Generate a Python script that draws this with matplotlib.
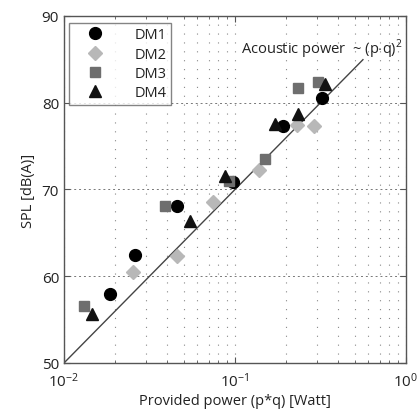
import numpy as np
import matplotlib.pyplot as plt
from matplotlib.ticker import LogLocator, NullFormatter

plt.rcParams['font.family'] = ['Open Sans', 'DejaVu Sans']
plt.rcParams['mathtext.fontset'] = 'custom'
plt.rcParams['mathtext.rm'] = 'Open Sans'

# power (p*q) in Watt, SPL in dB(A)
dm1_x = [0.0186, 0.0259, 0.0456, 0.0977, 0.191, 0.321]
dm1_y = [57.9, 62.4, 68.1, 70.9, 77.3, 80.6]
dm2_x = [0.0254, 0.0461, 0.0746, 0.139, 0.231, 0.290]
dm2_y = [60.5, 62.3, 68.5, 72.2, 77.4, 77.3]
dm3_x = [0.01315, 0.039, 0.092, 0.150, 0.234, 0.307]
dm3_y = [56.6, 68.1, 71.0, 73.5, 81.7, 82.4]
dm4_x = [0.01466, 0.0546, 0.0875, 0.171, 0.234, 0.336]
dm4_y = [55.6, 66.4, 71.5, 77.55, 78.7, 82.2]

# reference line: 20 dB per decade
ref_x = np.array([0.01, 0.56])
ref_y = 50 + 20 * np.log10(ref_x / 0.01)

fig = plt.figure(figsize=(4.19, 4.14), dpi=100)
ax = fig.add_axes([0.1527, 0.1208, 0.8163, 0.8382])

ax.plot(ref_x, ref_y, color='#444444', lw=1.0, zorder=2)
ax.plot(dm1_x, dm1_y, 'o', color='black', ms=8.5, label='DM1', zorder=3)
ax.plot(dm2_x, dm2_y, 'D', color='#b8b8b8', ms=7, label='DM2', zorder=3)
ax.plot(dm3_x, dm3_y, 's', color='#6e6e6e', ms=7.5, label='DM3', zorder=3)
ax.plot(dm4_x, dm4_y, '^', color='#111111', ms=9, label='DM4', zorder=3)

ax.set_xscale('log')
ax.set_xlim(0.01, 1)
ax.set_ylim(50, 90)
ax.set_yticks([50, 60, 70, 80, 90])
ax.xaxis.set_minor_locator(LogLocator(base=10, subs=np.arange(2, 10)))
ax.xaxis.set_minor_formatter(NullFormatter())

ax.grid(True, which='major', axis='y', color='#777777', ls=(0, (2, 3)), lw=0.7)
ax.grid(True, which='both', axis='x', color='#888888', ls=(0, (1, 7)), lw=0.8)

for s in ax.spines.values():
    s.set_color('#555555')
    s.set_linewidth(1.0)
ax.tick_params(which='both', direction='in', top=True, right=True,
               color='#555555', labelsize=11, labelcolor='#222222')
ax.tick_params(which='major', length=4)
ax.tick_params(which='minor', length=2)
ax.tick_params(axis='x', pad=6)

ax.set_xlabel('Provided power (p*q) [Watt]', fontsize=10.5, color='#222222', labelpad=2)
ax.set_ylabel('SPL [dB(A)]', fontsize=10.5, color='#222222', labelpad=4)

ax.text(0.109, 86.3, r'Acoustic power  ~ (p$\cdot$q)$^2$', fontsize=10.5,
        color='#222222', ha='left', va='center')

leg = ax.legend(loc='upper left', bbox_to_anchor=(0.014, 0.98), fontsize=10.5,
                frameon=True, fancybox=False, edgecolor='#666666',
                borderpad=0.3, handletextpad=1.2, labelspacing=0.3,
                handlelength=3.0, borderaxespad=0)
leg.get_frame().set_linewidth(1.0)
for t in leg.get_texts():
    t.set_color('#222222')

fig.savefig('out.png', dpi=100)
